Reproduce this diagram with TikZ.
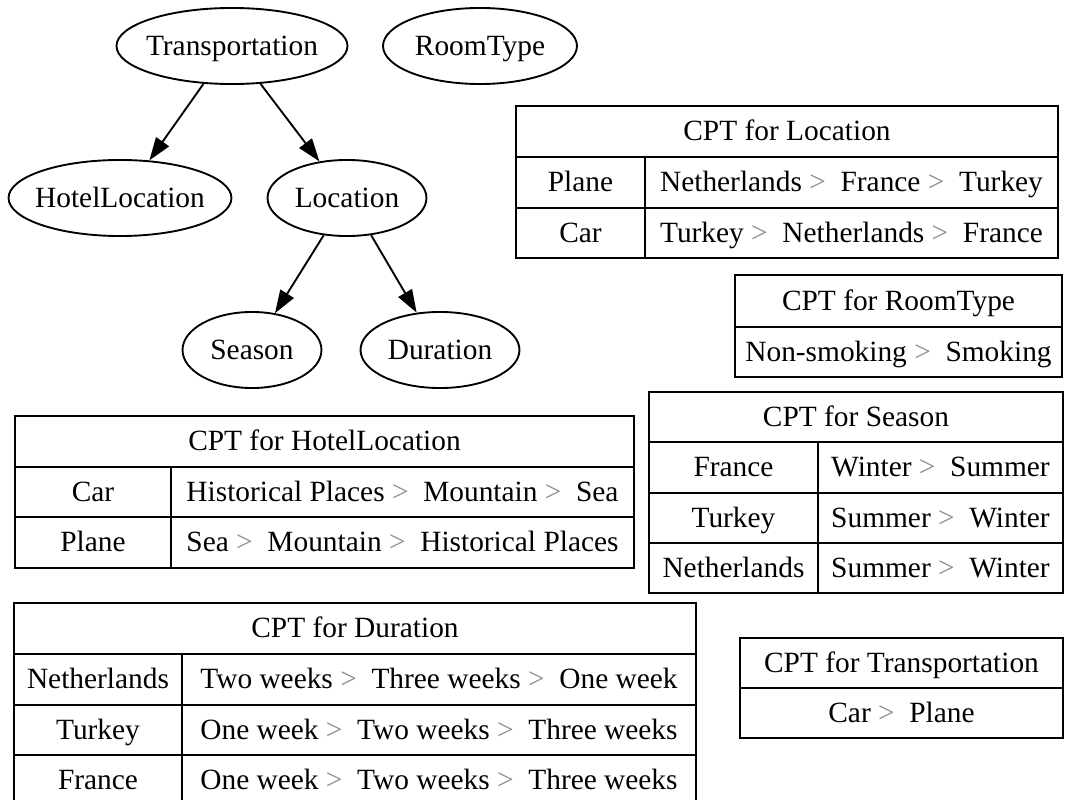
\documentclass[tikz,border=0pt]{standalone}
\usepackage{fontspec}
\setmainfont{Liberation Serif}
\usetikzlibrary{shapes.geometric,arrows.meta}
% preference sign inside the tables
\newcommand\gtsign{\textcolor{black!45}{>}}
% one table cell from its corners (x1,y1) and (x2,y2)
\newcommand\cptcell[6]{%
  \node[cell, minimum width={(#4-#2)*0.48pt}, minimum height={(#5-#3)*0.48pt}]
    (#1) at ({(#2+#4)/2},{(#3+#5)/2}) {#6};}
\begin{document}
\begin{tikzpicture}[x=0.48pt,y=-0.48pt,
  font=\fontsize{14.1}{17}\selectfont,
  var/.style={ellipse, draw, line width=0.9pt, inner sep=0pt,
    minimum height=36.5pt, text height=11pt, text depth=2pt},
  cell/.style={rectangle, draw, line width=0.9pt, inner sep=0pt,
    text height=11pt, text depth=2pt},
  dep/.style={line width=0.9pt, -{Triangle[length=11pt,width=7.5pt]}}]
\fill[white] (0,0) rectangle (1065,800);
\clip (0,0) rectangle (1065,800);
\path[use as bounding box] (0,0) rectangle (1065,800);

% network variables
\node[var, minimum width=110.9pt] (trans) at (232,46) {\makebox[0pt]{Transportation}};
\node[var, minimum width=93.1pt]  (room)  at (480,46) {\makebox[0pt]{RoomType}};
\node[var, minimum width=107pt]   (hotel) at (120,198) {\makebox[0pt]{HotelLocation}};
\node[var, minimum width=76.3pt]  (loc)   at (347,198) {\makebox[0pt]{Location}};
\node[var, minimum width=66.7pt]  (seas)  at (252,350) {\makebox[0pt]{Season}};
\node[var, minimum width=76.3pt]  (dur)   at (440,350) {\makebox[0pt]{Duration}};

% dependencies
\draw[dep] (trans.233) -- (hotel.52);
\draw[dep] (trans.307) -- (loc.127);
\draw[dep] (loc.238) -- (seas.58);
\draw[dep] (loc.303) -- (dur.122);

% CPT for Location
\cptcell{lochd}{516}{106}{1058}{157}{CPT for Location}
\cptcell{locpk}{516}{157}{645}{208}{Plane}
\cptcell{locpv}{645}{157}{1058}{208}{Netherlands~\gtsign~~France~\gtsign~~Turkey}
\cptcell{locck}{516}{208}{645}{258}{Car}
\cptcell{loccv}{645}{208}{1058}{258}{Turkey~\gtsign~~Netherlands~\gtsign~~France}

% CPT for RoomType
\cptcell{roomhd}{735}{275}{1062}{327}{CPT for RoomType}
\cptcell{roomv}{735}{327}{1062}{377}{Non-smoking~\gtsign~~Smoking}

% CPT for Season
\cptcell{seahd}{649}{392}{1063}{442}{CPT for Season}
\cptcell{seafk}{649}{442}{818}{493}{France}
\cptcell{seafv}{818}{442}{1063}{493}{Winter~\gtsign~~Summer}
\cptcell{seatk}{649}{493}{818}{543}{Turkey}
\cptcell{seatv}{818}{493}{1063}{543}{Summer~\gtsign~~Winter}
\cptcell{seank}{649}{543}{818}{593}{Netherlands}
\cptcell{seanv}{818}{543}{1063}{593}{Summer~\gtsign~~Winter}

% CPT for HotelLocation
\cptcell{hothd}{15}{416}{634}{467}{CPT for HotelLocation}
\cptcell{hotck}{15}{467}{171}{517}{Car}
\cptcell{hotcv}{171}{467}{634}{517}{Historical Places~\gtsign~~Mountain~\gtsign~~Sea}
\cptcell{hotpk}{15}{517}{171}{568}{Plane}
\cptcell{hotpv}{171}{517}{634}{568}{Sea~\gtsign~~Mountain~\gtsign~~Historical Places}

% CPT for Duration
\cptcell{durhd}{14}{603}{696}{654}{CPT for Duration}
\cptcell{durnk}{14}{654}{182}{705}{Netherlands}
\cptcell{durnv}{182}{654}{696}{705}{Two weeks~\gtsign~~Three weeks~\gtsign~~One week}
\cptcell{durtk}{14}{705}{182}{755}{Turkey}
\cptcell{durtv}{182}{705}{696}{755}{One week~\gtsign~~Two weeks~\gtsign~~Three weeks}
\cptcell{durfk}{14}{755}{182}{806}{France}
\cptcell{durfv}{182}{755}{696}{806}{One week~\gtsign~~Two weeks~\gtsign~~Three weeks}

% CPT for Transportation
\cptcell{trahd}{740}{638}{1063}{688}{CPT for Transportation}
\cptcell{trav}{740}{688}{1063}{738}{Car~\gtsign~~Plane}
\end{tikzpicture}
\end{document}
